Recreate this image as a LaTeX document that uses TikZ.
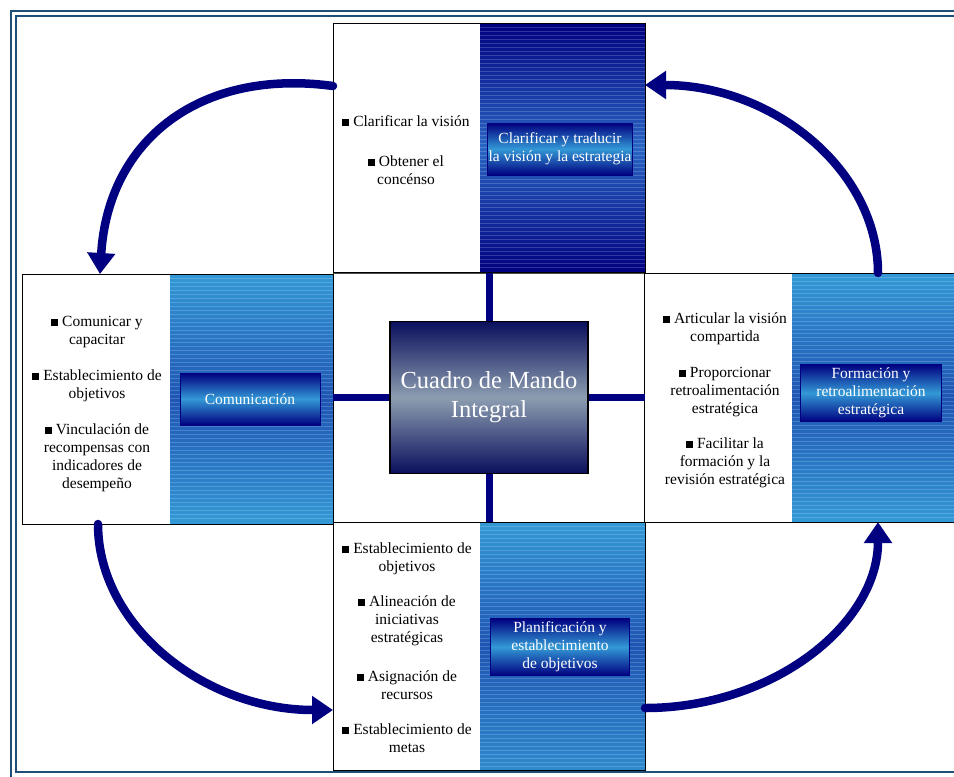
\documentclass[tikz,border=0pt]{standalone}
\usepackage{fontspec}
\setmainfont{Liberation Serif}
\usepackage{xcolor}
\usetikzlibrary{arrows.meta}

\definecolor{navyarrow}{HTML}{000080}
\definecolor{framecol}{HTML}{1F4E79}
\definecolor{lightblue}{HTML}{3399D6}
\definecolor{midblue}{HTML}{1E55B4}
\definecolor{topblue}{HTML}{2A66C4}
\definecolor{darknavy}{HTML}{0A0F5C}
\definecolor{steel}{HTML}{8C9DB0}

\newcommand{\bul}{\rule[0.5pt]{7pt}{7pt}\ }

\tikzset{
	panel/.style={draw=black, line width=1pt, fill=white, inner sep=0pt, outer sep=0pt, anchor=north west},
	band/.style={inner sep=0pt, outer sep=0pt, anchor=north west},
	tag/.style={draw=navyarrow, line width=.5pt, text=white, align=center, inner sep=1pt,
		font=\fontsize{15.5}{18}\selectfont, top color=navyarrow, bottom color=navyarrow, middle color=lightblue},
	items/.style={align=center, font=\fontsize{15.5}{18}\selectfont},
	cycle/.style={draw=navyarrow, line width=8.5pt, line cap=round, -{Triangle[width=27pt,length=21pt]}}
}

\begin{document}
\begin{tikzpicture}[x=1pt, y=-1pt]
		\useasboundingbox (0,0) rectangle (954,777);
		\clip (0,0) rectangle (954,777);
		\draw[framecol, line width=2.5pt] (11,11) rectangle (962,778);
		\draw[framecol, line width=1.5pt] (16,16) rectangle (956,772);

		\node[panel, draw=black!70, minimum width=312, minimum height=249] (hub) at (333,273) {};

		\node[panel, minimum width=312, minimum height=249] (vision) at (333,23) {};
		\node[panel, minimum width=311, minimum height=250] (comm) at (22,274) {};
		\node[panel, minimum width=320, minimum height=249] (learn) at (644,273) {};
		\node[panel, minimum width=312, minimum height=248] (plan) at (333,522) {};

		\node[band, minimum width=165, minimum height=249, top color=navyarrow, bottom color=navyarrow, middle color=topblue] (visionband) at (480,23) {};
		\node[band, minimum width=163, minimum height=250, top color=lightblue, bottom color=lightblue, middle color=midblue] (commband) at (170,274) {};
		\node[band, minimum width=172, minimum height=249, top color=lightblue, bottom color=lightblue, middle color=midblue] (learnband) at (792,273) {};
		\node[band, minimum width=165, minimum height=248, top color=lightblue, bottom color=lightblue!90!navyarrow, middle color=midblue] (planband) at (480,522) {};

		\foreach \b in {visionband, commband, learnband, planband} {
			\foreach \k in {1,...,61} {
				\draw[white, opacity=.18, line width=.7pt] ([yshift=-4*\k pt]\b.north west) -- ([yshift=-4*\k pt]\b.north east);
			}
		}
		\foreach \p in {vision, comm, learn, plan} {
			\draw[line width=1pt] (\p.north west) rectangle (\p.south east);
		}

		\node[draw=black, line width=1.2pt, minimum width=198, minimum height=152, top color=darknavy, bottom color=darknavy,
			middle color=steel, text=white, align=center, font=\fontsize{24.5}{29}\selectfont] (bsc) at (hub.center) {Cuadro de Mando\\Integral};
		\foreach \s/\t in {bsc.north/hub.north, bsc.south/hub.south, bsc.west/hub.west, bsc.east/hub.east} {
			\draw[navyarrow, line width=7pt] (\s) -- (\t);
		}

		\node[items] (visionitems) at (406,150) {\bul Clarificar la visión\\[22pt]\bul Obtener el\\concénso};
		\node[items] (commitems) at (97,404) {\bul Comunicar y\\capacitar\\[18pt]\bul Establecimiento de\\objetivos\\[18pt]
			\bul Vinculación de\\recompensas con\\indicadores de\\desempeño};
		\node[items] (learnitems) at (725,400) {\bul Articular la visión\\compartida\\[18pt]\bul Proporcionar\\retroalimentación\\estratégica\\[17pt]
			\bul Facilitar la\\formación y la\\revisión estratégica};
		\node[items] (planitems) at (407,648) {\bul Establecimiento de\\objetivos\\[17pt]\bul Alineación de\\iniciativas\\estratégicas\\[21pt]
			\bul Asignación de\\recursos\\[17pt]\bul Establecimiento de\\metas};

		\node[tag, minimum width=144, minimum height=52] (visiontag) at (560,149) {Clarificar y traducir\\la visión y la estrategia};
		\node[tag, minimum width=140, minimum height=52] (commtag) at (250,399) {Comunicación};
		\node[tag, minimum width=141, minimum height=57] (learntag) at (871,393) {Formación y\\retroalimentación\\estratégica};
		\node[tag, minimum width=139, minimum height=57] (plantag) at (560,647) {Planificación y\\establecimiento\\de objetivos};

		\draw[cycle] ([yshift=-63pt]vision.north west) .. controls (200,68) and (108,140) .. ([xshift=78pt]comm.north west);
		\draw[cycle] ([xshift=76pt]comm.south west) .. controls (98,626) and (204,710) .. ([yshift=-188pt]plan.north west);
		\draw[cycle] ([yshift=-186pt]plan.north east) .. controls (773,708) and (878,624) .. ([xshift=234pt]learn.south west);
		\draw[cycle] ([xshift=234pt]learn.north west) .. controls (878,170) and (773,85) .. ([yshift=-62pt]vision.north east);
	\end{tikzpicture}
\end{document}
